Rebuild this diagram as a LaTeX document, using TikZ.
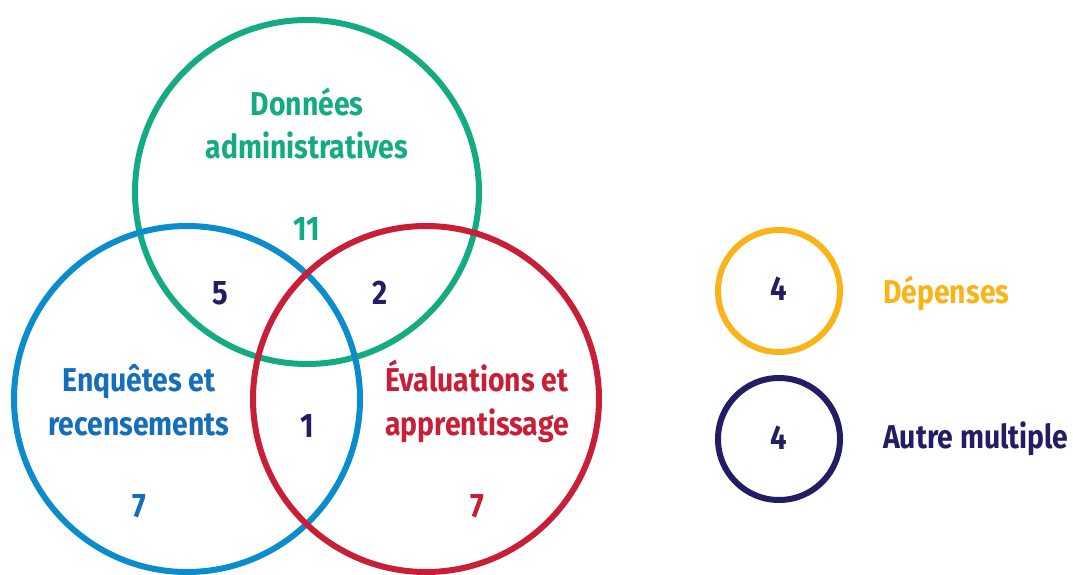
\documentclass[tikz,border=0pt]{standalone}
\usepackage{fontspec}
\setmainfont{Fira Sans}[FakeStretch=0.86]
\definecolor{cgreen}{RGB}{20,170,130}
\definecolor{cblue}{RGB}{10,140,205}
\definecolor{cbluet}{RGB}{20,110,185}
\definecolor{cred}{RGB}{200,30,55}
\definecolor{cnavy}{RGB}{35,30,100}
\definecolor{cyellow}{RGB}{250,180,25}
\tikzset{
  lbl/.style={font=\bfseries\fontsize{33}{42}\selectfont, anchor=base, inner sep=0pt, text=#1},
  num/.style={font=\bfseries\fontsize{34}{40}\selectfont, anchor=base, inner sep=0pt, text=#1},
  side/.style={font=\bfseries\fontsize{33}{40}\selectfont, anchor=base west, inner sep=0pt, text=#1}
}
\begin{document}
\begin{tikzpicture}[x=1pt,y=-1pt]
\useasboundingbox (0,0) rectangle (1073,575);
% Venn circles
\draw[cgreen, line width=6pt] (307,192) circle[radius=172];
\draw[cblue, line width=6pt] (187,399) circle[radius=173];
\draw[cred, line width=6pt] (426,399) circle[radius=173];
% legend circles
\draw[cyellow, line width=6pt] (779,291) circle[radius=61];
\draw[cnavy, line width=6pt] (779,439) circle[radius=61];
% labels
\node[lbl=cgreen] (d1) at (307,116) {Données};
\node[lbl=cgreen] (d2) at (307,158) {administratives};
\node[lbl=cbluet] (e1) at (139,391) {Enquêtes et};
\node[lbl=cbluet] (e2) at (139,435) {recensements};
\node[lbl=cred] (v1) at (477,391) {Évaluations et};
\node[lbl=cred] (v2) at (477,435) {apprentissage};
% numbers
\node[num=cgreen] (n11) at (307,240) {11};
\node[num=cnavy] (n5) at (220,304) {5};
\node[num=cnavy] (n2) at (380,304) {2};
\node[num=cnavy] (n1) at (307,437) {1};
\node[num=cbluet] (n7a) at (139,517) {7};
\node[num=cred] (n7b) at (477,517) {7};
\node[num=cnavy] (n4a) at (779,300) {4};
\node[num=cnavy] (n4b) at (779,449) {4};
% legend texts
\node[side=cyellow] (dep) at (883,303) {Dépenses};
\node[side=cnavy] (aut) at (883,448) {Autre multiple};
\end{tikzpicture}
\end{document}
